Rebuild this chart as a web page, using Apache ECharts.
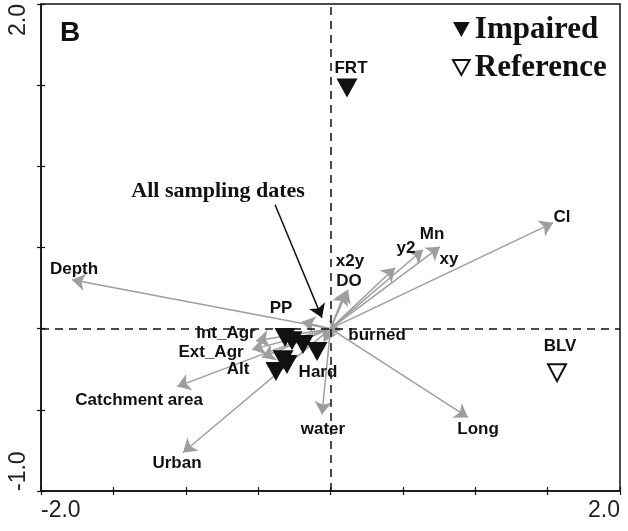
<!DOCTYPE html>
<html>
<head>
<meta charset="utf-8">
<script src="https://cdn.jsdelivr.net/npm/echarts@6/dist/echarts.min.js"></script>
<style>
html,body{margin:0;padding:0;background:#fff;}
#chart{width:628px;height:531px;}
</style>
</head>
<body>
<div id="chart"></div>
<script>
// ---- data ----
const xTickLabels = ['-2.0', '2.0'];
const yTickLabels = ['-1.0', '2.0'];

const varNames = ['Depth','Cl','xy','Mn','y2','x2y','DO','PP','burned','Int_Agr','Ext_Agr','Alt','Catchment area','Urban','water','Long','Hard'];
const varX = [-1.786, 1.537, 0.756, 0.639, 0.446, 0.121, 0.100, -0.197, 0.073, -0.515, -0.542, -0.473, -1.060, -1.019, -0.059, 0.950, -0.045];
const varY = [0.301, 0.652, 0.504, 0.486, 0.375, 0.240, 0.228, 0.043, -0.006, -0.074, -0.129, -0.178, -0.357, -0.763, -0.529, -0.547, -0.080];

const impairedNames = ['', '', '', '', '', '', '', 'FRT'];
const impairedX = [-0.314, -0.266, -0.190, -0.093, -0.328, -0.301, -0.377, 0.114];
const impairedY = [-0.055, -0.074, -0.098, -0.141, -0.191, -0.221, -0.264, 1.482];

const referenceNames = ['BLV'];
const referenceX = [1.565];
const referenceY = [-0.271];

const annotationText = 'All sampling dates';
const annotationFrom = [-0.383, 0.763];
const annotationTo = [-0.059, 0.068];

// ---- styles / layout ----
const labelOffsets = {
  'Depth': [2, -10], 'Cl': [9, -6], 'xy': [9, 12], 'Mn': [9, -15], 'y2': [11, -19],
  'x2y': [2, -28], 'DO': [4, -10], 'PP': [-21, -13], 'burned': [36, 6],
  'Int_Agr': [-30, -7], 'Ext_Agr': [-41, 3], 'Alt': [-24, 12],
  'Catchment area': [-38, 14], 'Urban': [-6, 11], 'water': [1, 15], 'Long': [10, 12], 'Hard': [-6, 31],
  'FRT': [4, -20], 'BLV': [3, -26]
};
const triPath = 'path://M0,0L10,0L5,9Z';
const textDark = '#111';
const arrowGray = '#9e9e9e';

const chart = echarts.init(document.getElementById('chart'), null, {renderer: 'canvas'});

const xLab = v => { const s = v.toFixed(1); return xTickLabels.indexOf(s) >= 0 ? s : ''; };
const yLab = v => { const s = v.toFixed(1); return yTickLabels.indexOf(s) >= 0 ? s : ''; };

const varLabelStyle = {
  show: true, position: 'inside', formatter: '{b}', opacity: 1, textBorderWidth: 0,
  fontFamily: 'Liberation Sans, Arial, sans-serif', fontWeight: 'bold', fontSize: 17, color: textDark
};

const option = {
  animation: false,
  backgroundColor: '#fff',
  grid: {left: 41, right: 8, top: 4, bottom: 40, show: true, borderColor: '#111', borderWidth: 1.5, backgroundColor: 'transparent'},
  xAxis: [
    {
      type: 'value', min: -2, max: 2, interval: 0.5, position: 'bottom',
      axisLine: {show: true, onZero: false, lineStyle: {color: '#111', width: 1.5}},
      axisTick: {show: true, inside: false, length: 4, lineStyle: {color: '#111', width: 1.2}},
      axisLabel: {show: true, formatter: xLab, margin: 8, fontSize: 23, color: '#222',
        fontFamily: 'Liberation Sans, Arial, sans-serif', alignMinLabel: 'left', alignMaxLabel: 'right'},
      splitLine: {show: false}
    },
    {
      type: 'value', min: -2, max: 2, interval: 0.5, position: 'bottom',
      axisLine: {show: false, onZero: false},
      axisTick: {show: true, inside: true, length: 4, lineStyle: {color: '#111', width: 1.2}},
      axisLabel: {show: false}, splitLine: {show: false}
    }
  ],
  yAxis: [
    {
      type: 'value', min: -1, max: 2, interval: 0.5, position: 'left',
      axisLine: {show: true, onZero: false, lineStyle: {color: '#111', width: 1.5}},
      axisTick: {show: true, inside: false, length: 4, lineStyle: {color: '#111', width: 1.2}},
      axisLabel: {show: true, formatter: yLab, rotate: 90, margin: 11, fontSize: 23, color: '#222',
        fontFamily: 'Liberation Sans, Arial, sans-serif', alignMinLabel: 'left', alignMaxLabel: 'right'},
      splitLine: {show: false}
    },
    {
      type: 'value', min: -1, max: 2, interval: 0.5, position: 'left',
      axisLine: {show: false, onZero: false},
      axisTick: {show: true, inside: true, length: 4, lineStyle: {color: '#111', width: 1.2}},
      axisLabel: {show: false}, splitLine: {show: false}
    }
  ],
  legend: {
    orient: 'vertical', left: 447, top: 9, itemWidth: 17, itemHeight: 15, itemGap: 7,
    textStyle: {fontFamily: 'Liberation Serif, Times New Roman, serif', fontWeight: 'bold', fontSize: 31, color: '#111'},
    data: [{name: 'Impaired', icon: triPath}, {name: 'Reference', icon: triPath}]
  },
  graphic: [
    {type: 'text', left: 60, top: 19, silent: true,
     style: {text: 'B', fontFamily: 'Liberation Sans, Arial, sans-serif', fontWeight: 'bold', fontSize: 28, fill: textDark}}
  ],
  series: [
    {
      name: 'axes0', type: 'line', data: [], silent: true,
      markLine: {
        silent: true, symbol: 'none', label: {show: false},
        lineStyle: {type: [8, 6], color: '#111', width: 1.5},
        data: [{xAxis: 0}, {yAxis: 0}]
      }
    },
    {
      name: 'vectors', type: 'lines', coordinateSystem: 'cartesian2d', silent: true, z: 3,
      symbol: ['none', 'arrow'], symbolSize: 13,
      lineStyle: {color: arrowGray, width: 1.5, opacity: 1},
      data: varNames.map((n, i) => ({coords: [[0, 0], [varX[i], varY[i]]]}))
    },
    {
      name: 'vectorLabels', type: 'scatter', symbolSize: 0, silent: true, z: 4,
      itemStyle: {opacity: 1},
      label: varLabelStyle,
      data: varNames.map((n, i) => ({name: n, value: [varX[i], varY[i]], label: {offset: labelOffsets[n]}}))
    },
    {
      name: 'annotation', type: 'lines', coordinateSystem: 'cartesian2d', silent: true, z: 5,
      symbol: ['none', 'arrow'], symbolSize: 13,
      lineStyle: {color: '#111', width: 1.5, opacity: 1},
      data: [{coords: [annotationFrom, annotationTo]}]
    },
    {
      name: 'annotationText', type: 'scatter', symbolSize: 0, silent: true, z: 5,
      itemStyle: {opacity: 1},
      label: {show: true, position: 'inside', formatter: '{b}', offset: [-57, -13], opacity: 1, textBorderWidth: 0,
        fontFamily: 'Liberation Serif, Times New Roman, serif', fontWeight: 'bold', fontSize: 22, color: '#111'},
      data: [{name: annotationText, value: annotationFrom}]
    },
    {
      name: 'Impaired', type: 'scatter', symbol: triPath, symbolSize: [21, 19], z: 6,
      itemStyle: {color: '#111', opacity: 1},
      label: Object.assign({}, varLabelStyle),
      data: impairedNames.map((n, i) => ({name: n, value: [impairedX[i], impairedY[i]],
        label: {offset: labelOffsets[n] || [0, 0]}}))
    },
    {
      name: 'Reference', type: 'scatter', symbol: triPath, symbolSize: [18, 17], z: 6,
      itemStyle: {color: '#fff', borderColor: '#111', borderWidth: 2, opacity: 1},
      label: Object.assign({}, varLabelStyle),
      data: referenceNames.map((n, i) => ({name: n, value: [referenceX[i], referenceY[i]],
        label: {offset: labelOffsets[n] || [0, 0]}}))
    }
  ]
};
chart.setOption(option);
</script>
</body>
</html>
